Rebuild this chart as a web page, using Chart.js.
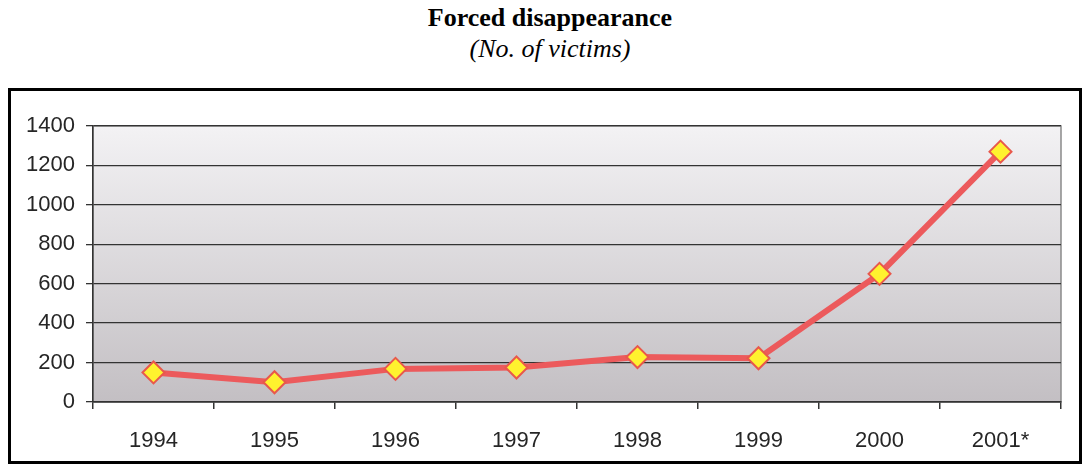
<!DOCTYPE html>
<html>
<head>
<meta charset="utf-8">
<script src="https://cdn.jsdelivr.net/npm/chart.js@4/dist/chart.umd.min.js"></script>
<style>
  html, body { margin: 0; padding: 0; background: #fff; }
  body { width: 1082px; height: 464px; position: relative; overflow: hidden; }
  .title, .subtitle {
    position: absolute; left: 0; width: 1100px; text-align: center;
    font-family: "Liberation Serif", "Times New Roman", serif; color: #000;
  }
  .title { top: 3px; font-size: 26px; font-weight: bold; }
  .subtitle { top: 34px; font-size: 26px; font-style: italic; }
  .frame {
    position: absolute; left: 8px; top: 88px; width: 1074px; height: 376px;
    border: 3px solid #000; box-sizing: border-box;
  }
  #chart { position: absolute; left: 0; top: 0; }
</style>
</head>
<body>
<div class="title">Forced disappearance</div>
<div class="subtitle">(No. of victims)</div>
<div class="frame"></div>
<canvas id="chart" width="1082" height="464"></canvas>
<script>
const years = ["1994", "1995", "1996", "1997", "1998", "1999", "2000", "2001*"];
const victims = [150, 100, 168, 175, 228, 222, 650, 1270];
const yTicks = [0, 200, 400, 600, 800, 1000, 1200, 1400];

// gradient plot background plus the grey frame on top/right
const plotBackground = {
  id: "plotBackground",
  beforeDraw(chart) {
    const { ctx, chartArea: a } = chart;
    const g = ctx.createLinearGradient(0, a.top, 0, a.bottom);
    g.addColorStop(0, "#f3f2f4");
    g.addColorStop(1, "#c3bfc3");
    ctx.save();
    ctx.fillStyle = g;
    ctx.fillRect(a.left, a.top, a.right - a.left, a.bottom - a.top);
    ctx.strokeStyle = "#8a8a8a";
    ctx.lineWidth = 1.5;
    ctx.strokeRect(a.left, a.top, a.right - a.left, a.bottom - a.top);
    ctx.restore();
  }
};

const tickFont = { family: "'Liberation Sans', Arial, sans-serif", size: 22 };

new Chart(document.getElementById("chart"), {
  type: "line",
  data: {
    labels: years,
    datasets: [{
      data: victims,
      borderColor: "#ec5a5c",
      borderWidth: 6,
      tension: 0,
      pointStyle: "rectRot",
      pointRadius: 11,
      pointHoverRadius: 11,
      pointBackgroundColor: "#fff22e",
      pointBorderColor: "#e8584c",
      pointBorderWidth: 2
    }]
  },
  options: {
    responsive: false,
    animation: false,
    layout: { padding: { top: 126, right: 21, bottom: 0, left: 0 } },
    plugins: { legend: { display: false }, tooltip: { enabled: false } },
    scales: {
      x: {
        type: "category",
        offset: true,
        afterFit(scale) { scale.height = 62; },
        grid: { offset: true, drawOnChartArea: false, tickLength: 7, color: "#333", lineWidth: 1.5 },
        border: { color: "#333", width: 1.5 },
        ticks: { color: "#262626", font: tickFont, padding: 19, maxRotation: 0 }
      },
      y: {
        min: 0,
        max: 1400,
        afterFit(scale) { scale.width = 93; },
        afterBuildTicks(scale) { scale.ticks = yTicks.map(v => ({ value: v })); },
        grid: { color: "#333", lineWidth: 1.3, tickLength: 7 },
        border: { color: "#333", width: 1.5 },
        ticks: { color: "#262626", font: tickFont, padding: 11, callback: v => String(v) }
      }
    }
  },
  plugins: [plotBackground]
});
</script>
</body>
</html>
